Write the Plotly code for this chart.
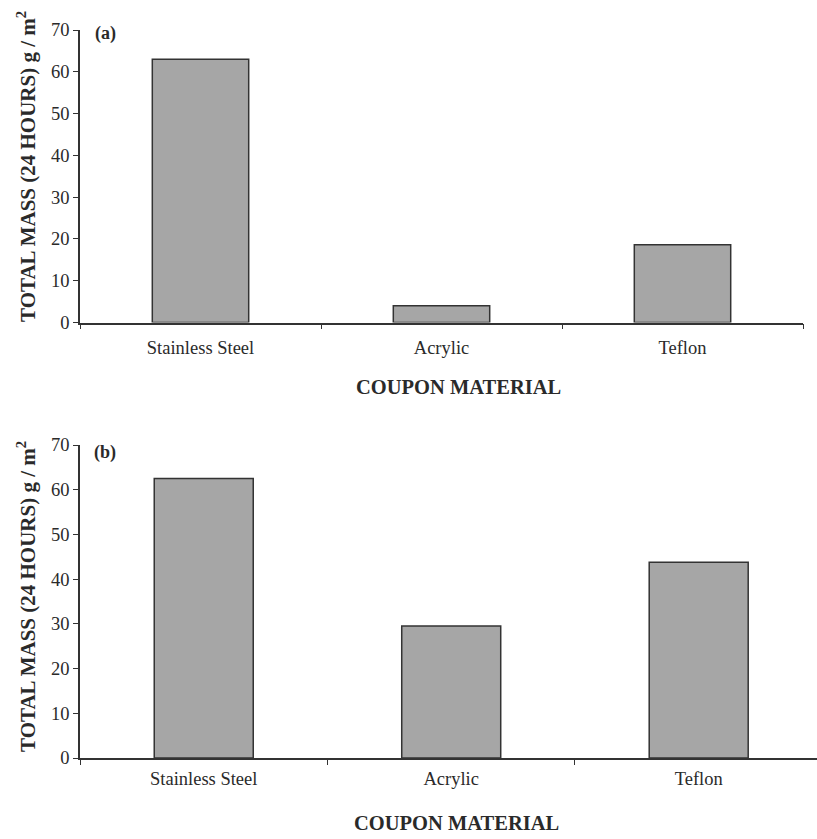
import plotly.graph_objects as go

materials = ["Stainless Steel", "Acrylic", "Teflon"]
mass_a = [63, 4, 18.6]
mass_b = [62.5, 29.5, 43.8]
y_ticks = [0, 10, 20, 30, 40, 50, 60, 70]

W, H = 817, 839
FONT = "Liberation Serif"
TXT = "#2a2a2a"
BAR = "#a6a6a6"
EDGE = "#333333"

def px(x):
    return x / W

def py(y):
    return (H - y) / H

fig = go.Figure()
for vals, xa, ya in [(mass_a, "x", "y"), (mass_b, "x2", "y2")]:
    fig.add_trace(go.Bar(x=materials, y=vals, xaxis=xa, yaxis=ya, width=0.4,
                         marker=dict(color=BAR, line=dict(color=EDGE, width=1.5)),
                         showlegend=False))

xcommon = dict(type="category", showline=True, linecolor=EDGE, linewidth=1.5,
               ticks="outside", tickson="boundaries", ticklen=5, tickwidth=1.2,
               tickcolor=EDGE, showgrid=False, zeroline=False, automargin=False,
               tickfont=dict(family=FONT, size=18.5, color=TXT))
ycommon = dict(showline=True, linecolor=EDGE, linewidth=1.5, ticks="outside",
               ticklen=5, tickwidth=1.2, tickcolor=EDGE, showgrid=False,
               zeroline=False, automargin=False, range=[0, 70], tickvals=y_ticks,
               tickfont=dict(family=FONT, size=18.5, color=TXT))

fig.update_layout(
    width=W, height=H, margin=dict(l=0, r=0, t=0, b=0),
    paper_bgcolor="white", plot_bgcolor="white", bargap=0.6,
    xaxis=dict(xcommon, domain=[px(80), px(803)], anchor="y", range=[-0.5, 2.5],
               ticklabelstandoff=8),
    yaxis=dict(ycommon, domain=[py(322.5), py(30)], anchor="x"),
    xaxis2=dict(xcommon, domain=[px(80), 1.0], anchor="y2", range=[-0.5, 2.478],
                ticklabelstandoff=3),
    yaxis2=dict(ycommon, domain=[py(758), py(445)], anchor="x2"),
)

ytitle = "TOTAL MASS (24 HOURS) g / m<sup>2</sup>"
ann = [
    dict(text="<b>(a)</b>", x=px(105), y=py(34), size=18),
    dict(text="<b>(b)</b>", x=px(105), y=py(452), size=18),
    dict(text="<b>COUPON MATERIAL</b>", x=px(459), y=py(387), size=20.5),
    dict(text="<b>COUPON MATERIAL</b>", x=px(456), y=py(823), size=20.5),
    dict(text="<b>" + ytitle + "</b>", x=px(27), y=py(167), size=21, angle=-90),
    dict(text="<b>" + ytitle + "</b>", x=px(26), y=py(597), size=21, angle=-90),
]
for a in ann:
    fig.add_annotation(text=a["text"], x=a["x"], y=a["y"], xref="paper", yref="paper",
                       xanchor="center", yanchor="middle", showarrow=False,
                       textangle=a.get("angle", 0),
                       font=dict(family=FONT, size=a.get("size", 18), color=TXT))

fig.write_html("out.html", config={"displayModeBar": False},
               post_script="document.body.style.margin='0';")
